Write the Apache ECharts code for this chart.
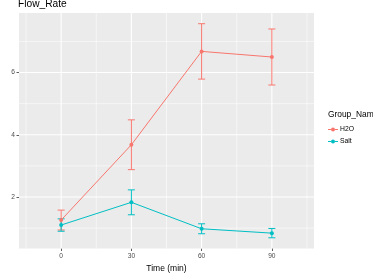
<!DOCTYPE html>
<html>
<head>
<meta charset="utf-8">
<script src="https://cdn.jsdelivr.net/npm/echarts@6/dist/echarts.min.js"></script>
<style>
html,body{margin:0;padding:0;background:#fff;}
#chart{width:373px;height:275px;}
</style>
</head>
<body>
<div id="chart"></div>
<script>
// ---- data ----
const times = [0, 30, 60, 90];
const h2oMean = [1.26, 3.68, 6.68, 6.50];
const h2oErr = [0.32, 0.80, 0.89, 0.90];
const saltMean = [1.10, 1.83, 0.98, 0.84];
const saltErr = [0.20, 0.40, 0.16, 0.15];
const xTicks = [0, 30, 60, 90];
const xMinor = [-15, 15, 45, 75, 105];
const yTicks = [2, 4, 6];
const yMinor = [1, 3, 5, 7];
const groups = ['H2O', 'Salt'];

// ---- styling ----
const FONT = 'Liberation Sans';
const colors = {H2O: '#F8766D', Salt: '#00BFC4'};
const capWidth = 3;
const xRange = [-18, 108];

const lows = h2oMean.map((m, i) => m - h2oErr[i]).concat(saltMean.map((m, i) => m - saltErr[i]));
const highs = h2oMean.map((m, i) => m + h2oErr[i]).concat(saltMean.map((m, i) => m + saltErr[i]));
const lo = Math.min(...lows), hi = Math.max(...highs);
const yMin = lo - (hi - lo) * 0.05, yMax = hi + (hi - lo) * 0.05;

function gridSeries(values, vertical, width) {
  return {
    type: 'custom',
    name: 'gridlines',
    silent: true,
    z: 1,
    data: values.map(v => [v]),
    renderItem: function (params, api) {
      const v = api.value(0);
      const cs = params.coordSys;
      let shape;
      if (vertical) {
        const p = api.coord([v, yMin]);
        shape = {x1: p[0], y1: cs.y, x2: p[0], y2: cs.y + cs.height};
      } else {
        const p = api.coord([xRange[0], v]);
        shape = {x1: cs.x, y1: p[1], x2: cs.x + cs.width, y2: p[1]};
      }
      return {type: 'line', shape: shape, style: {stroke: '#ffffff', lineWidth: width}};
    }
  };
}

function errSeries(group, means, errs) {
  return {
    type: 'custom',
    name: group + ' error',
    data: times.map((t, i) => [t, means[i] - errs[i], means[i] + errs[i]]),
    z: 3,
    silent: true,
    renderItem: function (params, api) {
      const x = api.value(0), l = api.value(1), h = api.value(2);
      const pl = api.coord([x, l]), ph = api.coord([x, h]);
      const hw = api.size([capWidth, 0])[0] / 2;
      const st = {stroke: colors[group], lineWidth: 1, fill: null};
      return {
        type: 'group',
        children: [
          {type: 'line', shape: {x1: pl[0], y1: pl[1], x2: ph[0], y2: ph[1]}, style: st},
          {type: 'line', shape: {x1: pl[0] - hw, y1: pl[1], x2: pl[0] + hw, y2: pl[1]}, style: st},
          {type: 'line', shape: {x1: ph[0] - hw, y1: ph[1], x2: ph[0] + hw, y2: ph[1]}, style: st}
        ]
      };
    }
  };
}
function lineSeries(group, means) {
  return {
    type: 'line',
    name: group,
    data: times.map((t, i) => [t, means[i]]),
    symbol: 'circle',
    symbolSize: 4,
    z: 4,
    lineStyle: {color: colors[group], width: 1},
    itemStyle: {color: colors[group]},
    emphasis: {disabled: true}
  };
}

const chart = echarts.init(document.getElementById('chart'), null, {renderer: 'canvas'});
chart.setOption({
  animation: false,
  backgroundColor: '#ffffff',
  textStyle: {fontFamily: FONT},
  title: [
    {text: 'Flow_Rate', left: 18, top: -1, padding: 0,
     textStyle: {fontFamily: FONT, fontSize: 10.2, fontWeight: 'normal', color: '#000'}},
    {text: 'Group_Name', left: 328, top: 111, padding: 0,
     textStyle: {fontFamily: FONT, fontSize: 8.4, fontWeight: 'normal', color: '#000'}}
  ],
  legend: {
    data: groups,
    orient: 'vertical',
    left: 328,
    top: 126,
    padding: 0,
    itemWidth: 10,
    itemHeight: 4,
    itemGap: 5,
    icon: 'path://M3,2 A2,2 0 1,1 7,2 A2,2 0 1,1 3,2 Z M0,1.5 L3,1.5 L3,2.5 L0,2.5 Z M7,1.5 L10,1.5 L10,2.5 L7,2.5 Z',
    textStyle: {fontFamily: FONT, fontSize: 6.8, color: '#000', padding: [0, 0, 0, -3]}
  },
  grid: {left: 19, top: 13, right: 59, bottom: 26.5, show: true, backgroundColor: '#EBEBEB',
         borderWidth: 0, containLabel: false, outerBoundsMode: 'none'},
  xAxis: {
    type: 'value',
    min: xRange[0], max: xRange[1],
    name: 'Time (min)',
    nameLocation: 'middle',
    nameGap: 12,
    nameTextStyle: {fontFamily: FONT, fontSize: 8.5, color: '#000'},
    axisLine: {show: false, onZero: false},
    axisTick: {show: true, length: 2.5, customValues: xTicks, lineStyle: {color: '#333', width: 0.8}},
    axisLabel: {customValues: xTicks, fontFamily: FONT, fontSize: 6.6, color: '#4D4D4D', margin: 4},
    splitLine: {show: false}
  },
  yAxis: {
    type: 'value',
    min: yMin, max: yMax,
    name: 'Flow_Rate (mL/min)',
    nameLocation: 'middle',
    nameGap: 10,
    nameRotate: 90,
    nameTextStyle: {fontFamily: FONT, fontSize: 8.5, color: '#000'},
    axisLine: {show: false, onZero: false},
    axisTick: {show: true, length: 2.5, customValues: yTicks, lineStyle: {color: '#333', width: 0.8}},
    axisLabel: {customValues: yTicks, fontFamily: FONT, fontSize: 6.6, color: '#4D4D4D', margin: 4},
    splitLine: {show: false}
  },
  series: [
    lineSeries('H2O', h2oMean),
    lineSeries('Salt', saltMean),
    gridSeries(xMinor, true, 0.55),
    gridSeries(yMinor, false, 0.55),
    gridSeries(xTicks, true, 1.1),
    gridSeries(yTicks, false, 1.1),
    errSeries('H2O', h2oMean, h2oErr),
    errSeries('Salt', saltMean, saltErr)
  ]
});
</script>
</body>
</html>
